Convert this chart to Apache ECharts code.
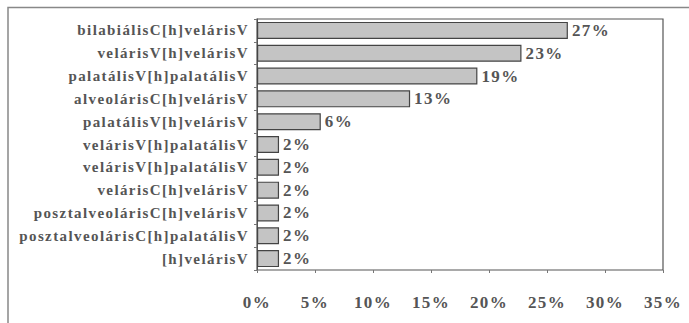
<!DOCTYPE html>
<html><head><meta charset="utf-8">
<script src="https://cdn.jsdelivr.net/npm/echarts@6/dist/echarts.min.js"></script>
<style>html,body{margin:0;padding:0;background:#fff}#c{width:689px;height:323px}
#c svg text{letter-spacing:1.4px}
</style>
</head><body><div id="c"></div>
<script>
const categories = ["bilabiálisC[h]velárisV","velárisV[h]velárisV","palatálisV[h]palatálisV","alveolárisC[h]velárisV","palatálisV[h]velárisV","velárisV[h]palatálisV","velárisV[h]palatálisV","velárisC[h]velárisV","posztalveolárisC[h]velárisV","posztalveolárisC[h]palatálisV","[h]velárisV"];
const values = [26.8, 22.8, 19.0, 13.2, 5.5, 1.9, 1.9, 1.9, 1.9, 1.9, 1.9];
const valueLabels = ["27%","23%","19%","13%","6%","2%","2%","2%","2%","2%","2%"];
const xTicks = [0,5,10,15,20,25,30,35];

const chart = echarts.init(document.getElementById('c'), null, {renderer:'svg'});
const font = '"Liberation Serif","DejaVu Serif",serif';
chart.setOption({
  animation:false,
  backgroundColor:'#fff',
  graphic:[{type:'polyline',shape:{points:[[8,330],[8,7.5],[700,7.5]]},style:{stroke:'#888',lineWidth:1.5,fill:null},silent:true}],
  grid:{left:257,right:26,top:19,bottom:53,show:true,borderColor:'#555',borderWidth:1.2,backgroundColor:'transparent'},
  xAxis:{type:'value',min:0,max:35,interval:5,
    axisLine:{show:false},axisTick:{show:true,length:3,lineStyle:{color:'#777'}},
    splitLine:{show:false},
    axisLabel:{margin:24,formatter:v=>v+'%',color:'#555',fontFamily:font,fontWeight:'bold',fontSize:17}},
  yAxis:{type:'category',inverse:true,data:categories,
    axisLine:{show:true,lineStyle:{color:'#555'}},axisTick:{show:true,length:3,lineStyle:{color:'#777'}},
    axisLabel:{margin:8,color:'#555',fontFamily:font,fontWeight:'bold',fontSize:15}},
  series:[{type:'bar',data:values,barWidth:17,
    itemStyle:{color:'#c4c4c4',borderColor:'#444',borderWidth:1.2},
    label:{show:true,position:'right',distance:4,formatter:p=>valueLabels[p.dataIndex],color:'#555',fontFamily:font,fontWeight:'bold',fontSize:17}}]
});
</script></body></html>
